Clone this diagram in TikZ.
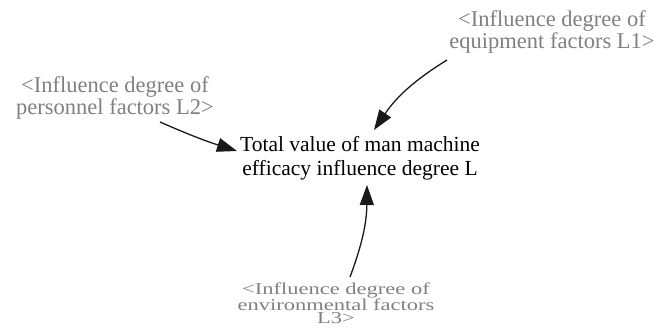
\documentclass[tikz,border=0pt]{standalone}
\usepackage{fontspec}
\setmainfont{Liberation Serif}
\usetikzlibrary{arrows.meta,calc}

\definecolor{labelgray}{RGB}{128,128,128}

\tikzset{
  mainvar/.style={inner sep=0pt, align=center, text=black,
    font=\fontsize{21.5}{24}\selectfont},
  shadowvar/.style={inner sep=0pt, align=center, text=labelgray,
    font=\fontsize{22.5}{20}\selectfont},
  link/.style={line width=1.3pt, draw=black!90,
    -{Triangle[length=20pt,width=14pt]}}
}

\begin{document}
\begin{tikzpicture}[x=1pt,y=-1pt]
  \useasboundingbox (0,0) rectangle (655,330);

  % central variable
  \node[mainvar] (total) at (360,158)
    {Total value of man machine\\efficacy influence degree L};

  % shadow variables feeding it
  \node[shadowvar] (l1) at (552,31.7)
    {<Influence degree of\\equipment factors L1>};
  \node[shadowvar] (l2) at (115,97.7)
    {<Influence degree of\\personnel factors L2>};
  \node[shadowvar, font=\fontsize{22.5}{17.5}\selectfont,
        yscale=0.74, transform shape] (l3) at (336,303)
    {<Influence degree of\\environmental factors\\L3>};

  % causal links
  \draw[link] ($(l2)+(45,24.3)$) to[bend right=3] ($(total)+(-123,-7)$);
  \draw[link] ($(l1)+(-105,28.3)$) to[bend right=12] ($(total)+(14,-28)$);
  \draw[link] ($(l3)+(14,-26)$) to[bend right=10] ($(total)+(7,27)$);
\end{tikzpicture}
\end{document}
